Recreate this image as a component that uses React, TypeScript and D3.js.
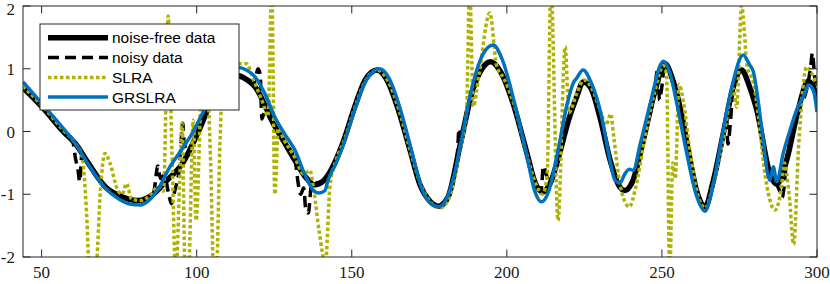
import React from "react";
import * as d3 from "d3";

// noise-free signal (key samples)
const cleanX = [44, 50, 57, 61, 65, 70.5, 75, 81, 86, 90, 95.5, 101, 104, 108, 112.5, 115, 119, 125, 128, 131.7, 135, 138, 141, 144, 147, 151, 154.3, 158.2, 161, 165, 168.8, 172, 175, 178, 181, 185, 189, 192, 194.8, 198, 202, 206.5, 209, 211.5, 214, 217, 220, 222.5, 224.6, 227, 230, 233.3, 236, 238, 240.5, 244, 247.5, 251, 253.3, 256, 258.5, 261.2, 263.9, 266.5, 269.8, 273, 275.7, 278, 280.6, 284.8, 287, 290.2, 293.4, 297.2, 300];
const cleanY = [0.7, 0.4, 0.0, -0.2, -0.5, -0.88, -1.02, -1.1, -1.0, -0.8, -0.5, 0.05, 0.4, 0.75, 0.9, 0.86, 0.7, 0.1, -0.15, -0.46, -0.72, -0.85, -0.78, -0.55, -0.2, 0.4, 0.82, 0.98, 0.85, 0.35, -0.3, -0.85, -1.1, -1.19, -1.05, -0.2, 0.66, 1.0, 1.11, 0.95, 0.45, -0.35, -0.8, -0.96, -0.82, -0.35, 0.2, 0.55, 0.79, 0.7, 0.23, -0.46, -0.85, -0.94, -0.8, -0.14, 0.6, 1.08, 0.85, 0.35, -0.3, -0.95, -1.2, -0.8, -0.03, 0.71, 0.98, 0.75, 0.34, -0.67, -0.84, -0.46, 0.23, 0.8, 0.55];

// noisy data
const noisyX = [44, 50, 57, 60, 61, 61.7, 62.3, 63, 65, 70.5, 75, 81, 86, 87.5, 88.3, 89.5, 91, 91.8, 93, 94.5, 95.5, 96, 97.5, 101, 104, 108, 112.5, 115, 118.5, 119.8, 120.5, 121, 121.8, 125, 128, 131.7, 132.8, 133.5, 134.5, 135.2, 136, 137, 141, 144, 147, 151, 154.3, 158.2, 161, 165, 168.8, 172, 175, 178, 181, 184, 184.6, 185.2, 189, 192, 194.8, 198, 202, 206.5, 209, 211, 211.8, 212.8, 214, 217, 220, 222.5, 224.6, 227, 230, 233.3, 236, 238, 240.5, 244, 247.5, 248.7, 249.2, 249.8, 251, 253.3, 256, 258.5, 261.2, 263.9, 266.5, 269.8, 270.8, 271.3, 272, 273, 275.7, 278, 280.6, 284.8, 287, 288, 288.8, 290.2, 293.4, 297.2, 298, 298.5, 299.2, 300];
const noisyY = [0.7, 0.42, 0.02, -0.15, -0.45, -0.6, -0.8, -0.35, -0.5, -0.87, -1.03, -1.1, -1.0, -0.55, -0.75, -0.7, -1.0, -1.15, -0.93, -0.55, 0.13, -0.2, -0.3, 0.05, 0.4, 0.75, 0.9, 0.86, 0.78, 1.0, 0.9, 0.2, 0.3, 0.1, -0.15, -0.46, -0.85, -1.0, -0.9, -1.25, -1.3, -0.85, -0.78, -0.55, -0.2, 0.4, 0.82, 0.98, 0.85, 0.35, -0.3, -0.85, -1.1, -1.19, -1.05, -0.4, 0.05, -0.05, 0.66, 1.0, 1.11, 0.95, 0.45, -0.35, -0.8, -0.95, -0.55, -0.7, -0.82, -0.35, 0.2, 0.55, 0.79, 0.7, 0.23, -0.46, -0.85, -0.94, -0.8, -0.14, 0.6, 1.0, 0.5, 0.65, 1.08, 0.85, 0.35, -0.3, -0.95, -1.2, -0.8, -0.03, 0.2, -0.2, 0.1, 0.71, 0.98, 0.75, 0.34, -0.67, -0.84, -0.95, -1.05, -0.46, 0.23, 0.8, 1.05, 1.25, 0.9, 0.6];

// SLRA estimate
const slraX = [44, 50, 57, 61, 63, 64.5, 65.5, 67.5, 69, 70.4, 72, 74.5, 76, 77.4, 79, 82, 85, 87.5, 89.3, 90.8, 92, 93.3, 94.5, 95.3, 96.3, 97.3, 98.9, 99.8, 101.5, 103, 104.5, 105.5, 106.3, 107.5, 108.5, 110.5, 113, 116, 118.5, 121, 123, 124.2, 125.2, 126.3, 128, 131.7, 134.5, 136.5, 137.8, 139.5, 141.5, 143, 145, 147.5, 151, 154.3, 158.2, 161.5, 165.5, 169, 172.5, 175.5, 178.5, 181.5, 185, 187, 188, 189.2, 191, 194.5, 196.7, 199, 202.5, 206.5, 209.5, 211.5, 213, 214.2, 216.5, 218.8, 220, 222.5, 224.8, 227.5, 230, 232, 233.5, 234.5, 236.5, 239.5, 241.5, 244.5, 247.5, 250.5, 251.5, 252.5, 253.5, 254.3, 255.5, 257, 259, 261.5, 264, 266.5, 270, 273, 274.1, 275.7, 277.5, 279.5, 281, 283, 286.5, 288.5, 289.5, 291, 292.5, 294, 296.7, 298, 300];
const slraY = [0.72, 0.42, 0.02, -0.2, -0.38, -1.3, -2.3, -2.2, -0.9, -0.35, -0.5, -0.93, -1.0, -0.83, -1.08, -1.1, -1.02, -0.88, -0.95, 1.84, -0.3, -2.3, -0.8, 0.13, -2.3, -2.3, 0.18, -1.42, 0.6, 1.0, -0.5, -2.3, -2.3, -0.2, 0.9, 1.0, 1.08, 1.08, 0.8, 0.5, 0.25, 2.3, -1.0, 0.05, -0.12, -0.42, -0.68, -0.62, -0.95, -1.6, -2.1, -0.85, -0.45, -0.15, 0.38, 0.8, 0.98, 0.82, 0.3, -0.33, -0.88, -1.13, -1.22, -1.05, -0.25, 0.3, 2.3, 0.4, 0.9, 1.89, 1.05, 0.85, 0.4, -0.38, -0.85, -1.0, -0.7, 2.3, -1.42, 1.35, 0.3, 0.6, 0.82, 0.68, 0.35, 0.1, 0.28, -0.1, -0.85, -1.2, -0.9, -0.1, 0.6, 1.05, 0.9, -2.3, -0.5, -0.75, 0.75, 0.45, -0.3, -1.0, -1.22, -0.85, -0.05, 0.68, 0.39, 2.0, 1.03, 0.78, 0.3, -0.6, -1.25, -0.9, -0.5, -1.0, -1.8, -0.3, 1.03, 0.95, 0.75];

// GRSLRA estimate
const grX = [44, 50, 57, 61, 65, 70.5, 75, 78, 82, 85, 88, 91.4, 95, 98.9, 102, 105, 109, 113.5, 116, 118.8, 122, 125.2, 128.5, 131.7, 135, 138.1, 139.5, 141.4, 142.2, 145, 147.8, 151, 155, 159.1, 162, 166, 169.5, 172.5, 175.5, 178, 180.5, 183, 185.5, 189, 192.5, 195.6, 198.5, 202.5, 206.5, 209, 211.2, 213.5, 216.5, 219.5, 221.5, 222.5, 224.6, 227, 230.5, 233, 234.9, 236.5, 238, 239.5, 240.7, 243, 246.5, 249.4, 250.5, 252.5, 255, 258, 261, 263.9, 266.5, 269.5, 272.5, 276.2, 278.3, 279.5, 281, 282.3, 284.8, 285.9, 287, 289.1, 291.3, 293.4, 296.1, 297.2, 298.8, 300];
const grY = [0.79, 0.45, 0.05, -0.2, -0.52, -0.9, -1.08, -1.15, -1.17, -1.08, -0.88, -0.56, -0.3, 0.0, 0.3, 0.55, 0.85, 1.02, 0.98, 0.87, 0.6, 0.23, -0.05, -0.3, -0.7, -0.96, -0.98, -0.94, -0.8, -0.5, -0.14, 0.35, 0.85, 1.0, 0.85, 0.3, -0.35, -0.9, -1.15, -1.2, -1.08, -0.7, -0.1, 0.75, 1.25, 1.38, 1.15, 0.45, -0.4, -0.95, -1.12, -0.95, -0.3, 0.45, 0.78, 0.85, 0.98, 0.8, 0.25, -0.4, -0.78, -0.82, -0.68, -0.6, -0.62, -0.2, 0.5, 1.05, 1.12, 0.95, 0.4, -0.35, -1.0, -1.27, -0.85, -0.05, 0.7, 1.22, 1.06, 0.95, 0.5, 0.0, -0.78, -0.56, -0.8, -0.35, 0.02, 0.34, 0.61, 0.74, 0.66, 0.31];

const xTicks = [50, 100, 150, 200, 250, 300];
const yTicks = [-2, -1, 0, 1, 2];
const legendLabels = ["noise-free data", "noisy data", "SLRA", "GRSLRA"];

const W = 830;
const H = 284;
const margin = { left: 23, right: 13, top: 6, bottom: 27 };

const App = () => {
  const x = d3.scaleLinear().domain([44, 300]).range([margin.left, W - margin.right]);
  const y = d3.scaleLinear().domain([-2, 2]).range([H - margin.bottom, margin.top]);

  const line = d3
    .line<[number, number]>()
    .x((d) => x(d[0]))
    .y((d) => y(d[1]))
    .curve(d3.curveMonotoneX);

  const zip = (xs: number[], ys: number[]) => xs.map((v, i) => [v, ys[i]] as [number, number]);

  const series = [
    { d: zip(cleanX, cleanY), stroke: "#000", width: 5.5, dash: "none" },
    { d: zip(noisyX, noisyY), stroke: "#000", width: 3.5, dash: "11 6" },
    { d: zip(slraX, slraY), stroke: "#adb300", width: 3.5, dash: "3.5 2.5" },
    { d: zip(grX, grY), stroke: "#0072bd", width: 3.5, dash: "none" },
  ];

  const x0 = margin.left;
  const x1 = W - margin.right;
  const y0 = margin.top;
  const y1 = H - margin.bottom;
  const tick = 7.5;
  const axisColor = "#262626";

  const lg = { x: 40, y: 24, w: 199, h: 86 };
  const rowY = [37.7, 57.5, 77.5, 97];

  return (
    <svg
      width={W}
      height={H}
      style={{ position: "absolute", left: 0, top: 0, background: "#fff" }}
    >
      <defs>
        <clipPath id="plotClip">
          <rect x={x0} y={y0} width={x1 - x0} height={y1 - y0} />
        </clipPath>
      </defs>

      <g clipPath="url(#plotClip)">
        {series.map((s, i) => (
          <path
            key={i}
            d={line(s.d) || ""}
            fill="none"
            stroke={s.stroke}
            strokeWidth={s.width}
            strokeDasharray={s.dash}
            strokeLinejoin="round"
          />
        ))}
      </g>

      {/* box + ticks */}
      <rect x={x0} y={y0} width={x1 - x0} height={y1 - y0} fill="none" stroke={axisColor} strokeWidth={1} />
      {xTicks.map((t) => (
        <g key={"x" + t}>
          <line x1={x(t)} x2={x(t)} y1={y1} y2={y1 - tick} stroke={axisColor} />
          <line x1={x(t)} x2={x(t)} y1={y0} y2={y0 + tick} stroke={axisColor} />
          <text
            x={x(t)}
            y={y1 + 21}
            textAnchor="middle"
            fontFamily="'Liberation Serif', serif"
            fontSize={17}
            fill="#1a1a1a"
          >
            {t}
          </text>
        </g>
      ))}
      {yTicks.map((t) => (
        <g key={"y" + t}>
          <line x1={x0} x2={x0 + tick} y1={y(t)} y2={y(t)} stroke={axisColor} />
          <line x1={x1} x2={x1 - tick} y1={y(t)} y2={y(t)} stroke={axisColor} />
          <text
            x={x0 - 8}
            y={Math.max(y(t) + 6, 14.5)}
            textAnchor="end"
            fontFamily="'Liberation Serif', serif"
            fontSize={17}
            fill="#1a1a1a"
          >
            {t < 0 ? "-" + Math.abs(t) : t}
          </text>
        </g>
      ))}

      {/* legend */}
      <rect x={lg.x} y={lg.y} width={lg.w} height={lg.h} fill="#fff" stroke={axisColor} strokeWidth={1} />
      {legendLabels.map((label, i) => (
        <g key={label}>
          <line
            x1={48}
            x2={108}
            y1={rowY[i]}
            y2={rowY[i]}
            stroke={series[i].stroke}
            strokeWidth={series[i].width}
            strokeDasharray={series[i].dash}
          />
          <text
            x={112}
            y={rowY[i] + 5.5}
            fontFamily="'Liberation Sans', Arial, sans-serif"
            fontSize={15.5}
            fill="#000"
          >
            {label}
          </text>
        </g>
      ))}
    </svg>
  );
};

export default App;
